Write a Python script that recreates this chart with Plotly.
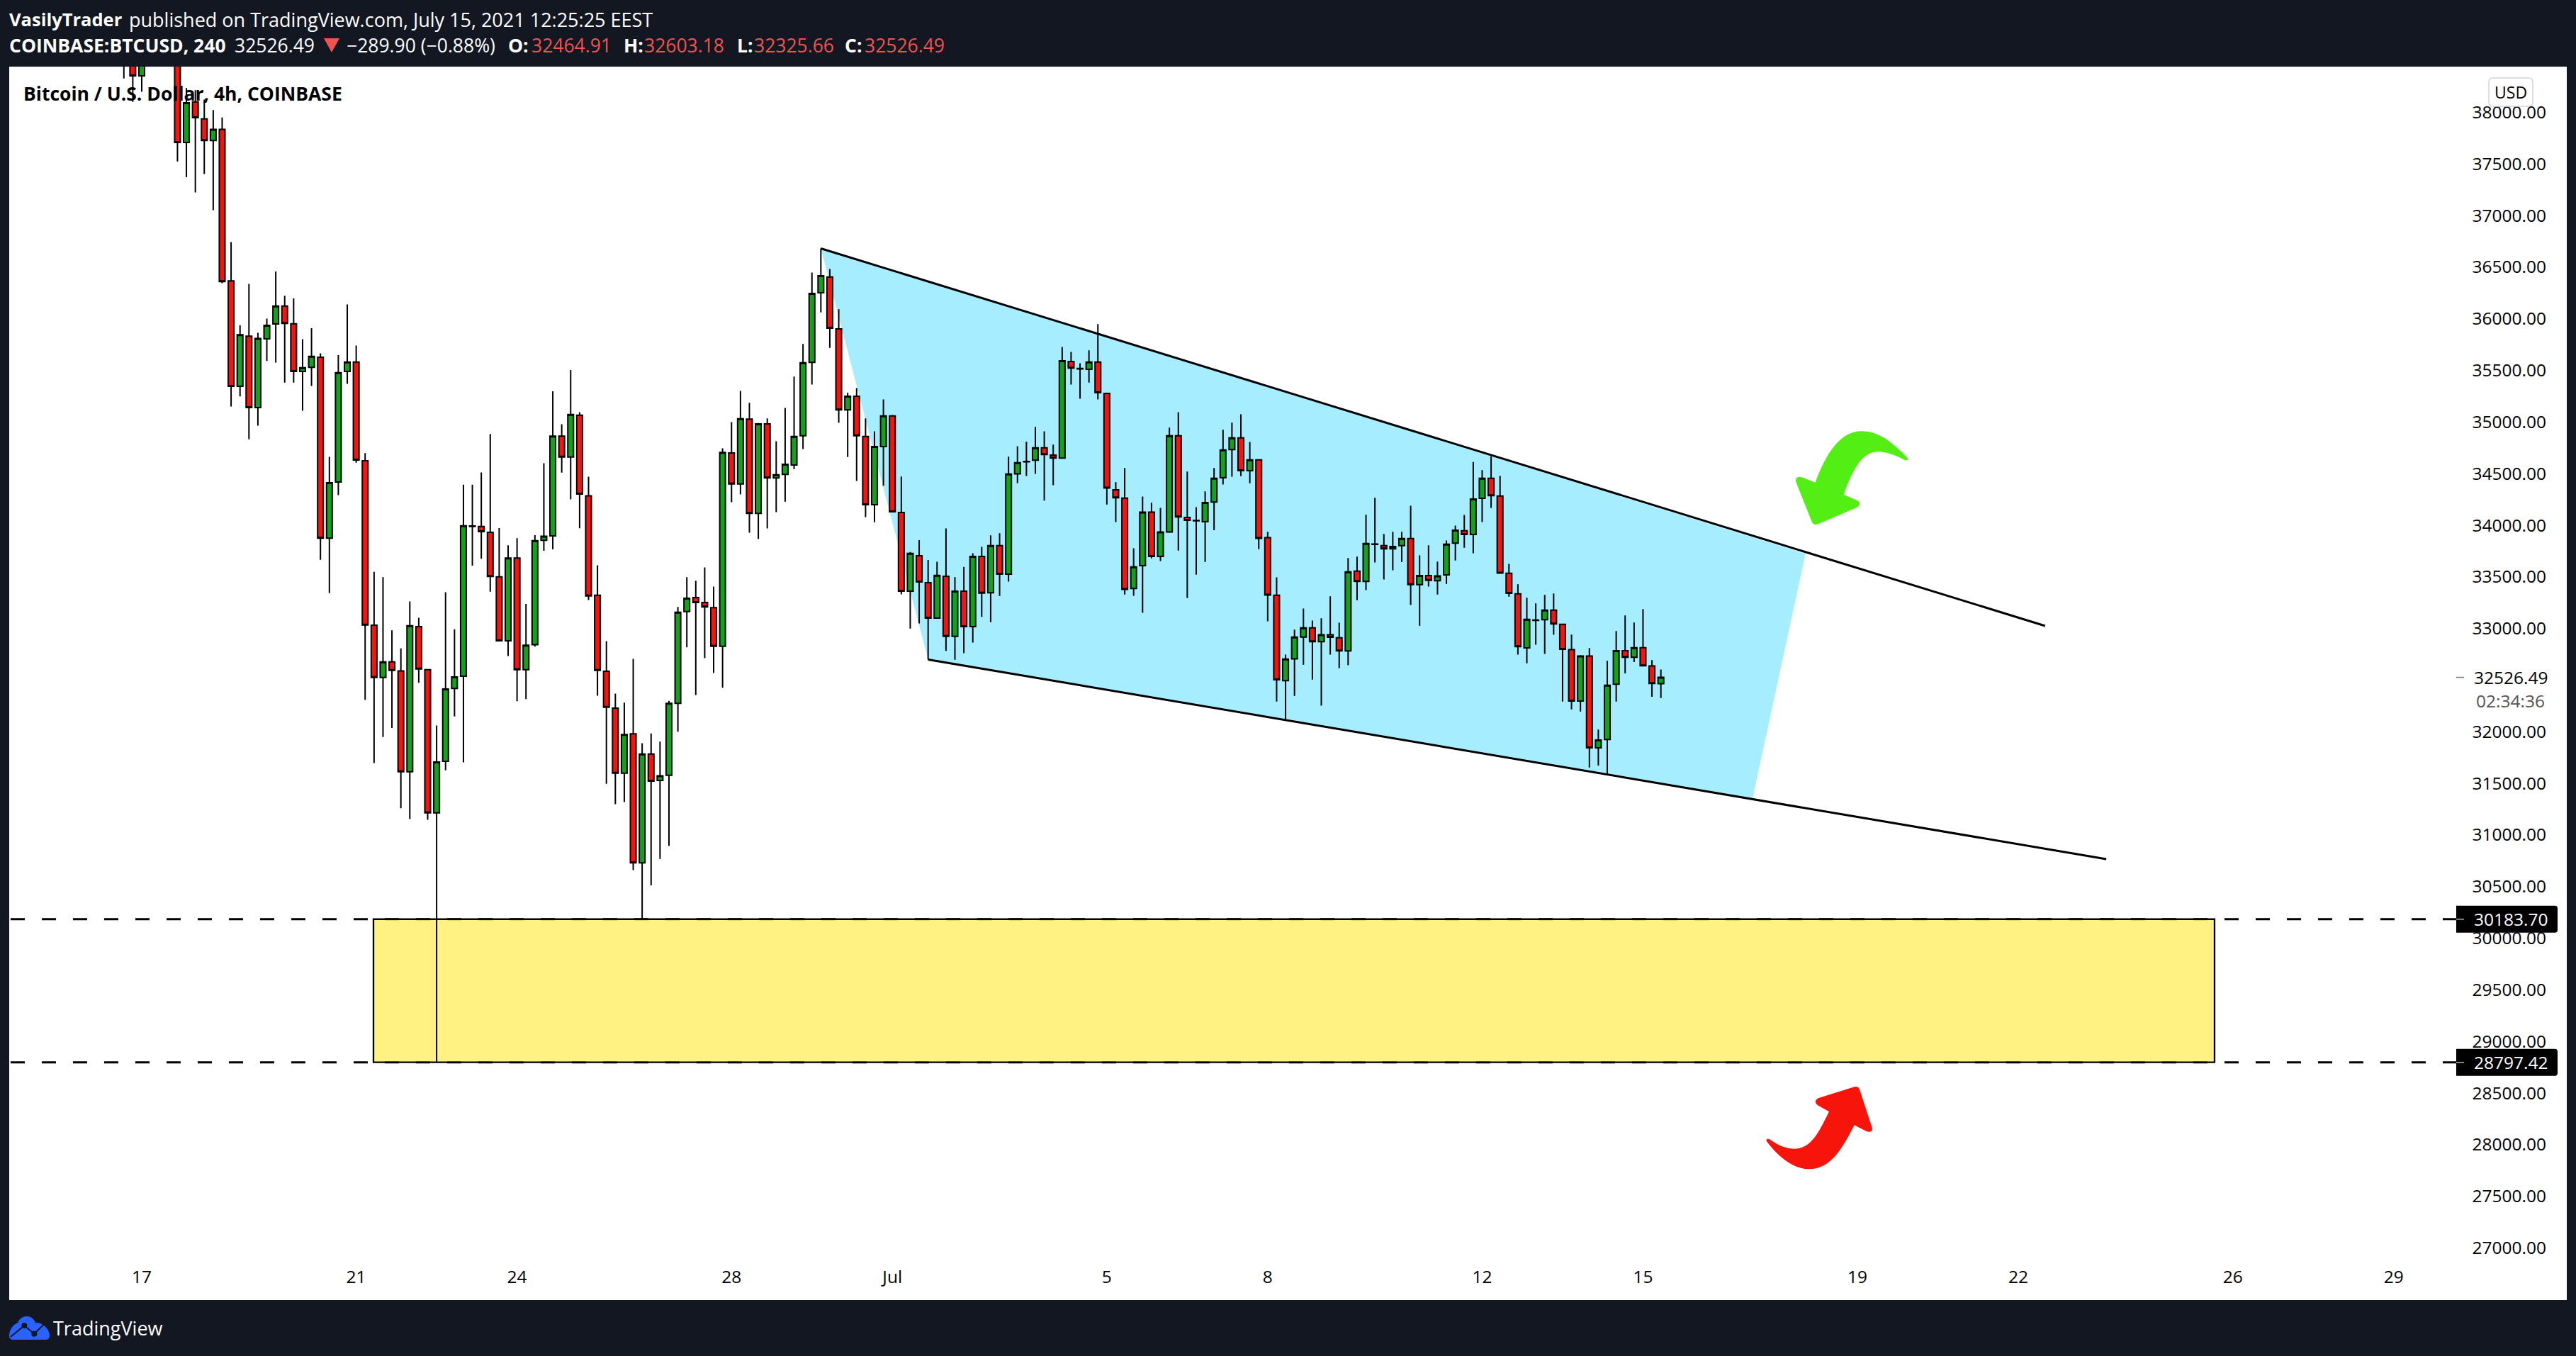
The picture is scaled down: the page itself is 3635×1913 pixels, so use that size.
import pandas as pd
import plotly.graph_objects as go

W, H = 3635, 1913
L, R, T, B = 13, 3622, 94, 1834
DARK = "#131722"
FONT = "Open Sans"

opens = [38600,38600,38352,38640,38900,39050,39200,37708,38100,37935,
37727,37834,36366,35345,35832,35140,35805,35949,36123,35952,
35489,35529,35627,33875,34418,35489,35581,34624,33031,32526,
32677,32589,31612,33017,32600,31213,31714,32418,32537,33992,
33987,33931,33500,32880,33682,32600,32842,33854,33896,34863,
34660,35066,34285,33322,32586,32229,31598,31980,30729,31784,
31528,31577,32274,33164,33300,33251,33202,32828,34700,34400,
35028,34115,34982,34458,34492,34584,34866,35577,36251,36405,
35902,35117,35249,34860,34198,34762,35059,34124,33361,33704,
33444,33100,33505,32923,33361,33018,33698,33346,33802,33526,
34498,34614,34630,34750,34679,34651,35586,35518,35510,35580,
35277,34343,34262,33387,33608,34126,33697,33934,34867,34076,
34046,34034,34225,34459,34733,34846,34528,34633,33879,33321,
32494,32706,32917,33006,32872,32938,32909,32783,33555,33456,
33818,33802,33771,33802,33871,33424,33513,33463,33519,33826,
33947,33910,34260,34454,34283,33534,33336,32812,33082,33084,
33178,33040,32794,32297,32732,31844,31924,32460,32785,32721,
32814,32636,32464.91]
closes = [38700,38352,38640,38900,39050,39200,37708,38091,37947,37727,
37834,36359,35345,35845,35140,35808,35936,36123,35955,35489,
35526,35636,33875,34411,35477,35581,34631,33034,32526,32677,
32593,31612,33027,32607,31213,31707,32414,32530,33994,33988,
33938,33504,32880,33682,32600,32838,33850,33893,34863,34660,
35073,34302,33315,32593,32236,31598,31973,30729,31784,31521,
31573,32274,33157,33293,33251,33209,32828,34705,34400,35031,
34115,34982,34458,34489,34590,34860,35574,36245,36417,35908,
35117,35249,34866,34198,34762,35059,34130,33361,33726,33450,
33100,33514,32923,33361,33018,33698,33343,33802,33526,34495,
34605,34618,34750,34685,34651,35592,35522,35514,35580,35283,
34360,34265,33379,33597,34126,33697,33934,34867,34081,34047,
34042,34220,34454,34730,34846,34528,34633,33873,33324,32502,
32704,32917,33006,32872,32938,32914,32783,33548,33456,33823,
33814,33771,33794,33871,33424,33513,33466,33508,33816,33952,
33910,34254,34454,34286,33537,33340,32823,33089,33078,33178,
33043,32798,32297,32732,31844,31919,32450,32785,32721,32814,
32638,32466,32526.49]
highs = [38900,38750,38800,39050,39200,39350,39300,38235,38214,38122,
38021,37950,36743,35936,36338,35863,36001,36458,36222,36197,
35802,35909,35664,34663,35648,36139,35740,34698,33549,33497,
32982,32807,33262,33104,32600,32060,33350,32992,34393,34393,
34512,34884,33973,33805,33875,33237,33903,34600,35297,34978,
35503,35094,34470,33612,32877,32369,32281,32705,31889,31983,
31903,32299,33209,33497,33462,33591,33406,34744,34998,35301,
35185,34990,35035,34814,35136,35439,35755,36448,36681,36481,
36092,35283,35329,35035,34909,35219,35068,34471,33741,33855,
33664,33646,33968,33496,33597,33729,33790,33901,33922,34664,
34765,34808,34952,34909,34780,35727,35678,35568,35694,35948,
35283,34417,34554,33776,34278,34218,34168,34945,35095,34520,
34175,34328,34554,34924,34993,35074,34806,34633,33936,33495,
32746,32988,33193,33077,33098,33311,33056,33682,33695,34102,
34265,33915,33936,33936,34189,33708,33805,33647,33852,33997,
34099,34612,34533,34667,34478,33626,33428,33297,33242,33325,
33338,33040,32940,32741,32810,32020,32686,32975,33126,33057,
33187,32693,32603.18]
lows = [38327,38100,38199,38560,38700,38900,37524,37371,37224,37402,
37052,36344,35149,35247,34833,34965,35590,35575,35382,35382,
35109,35348,33665,33342,34292,35369,34606,32309,31696,31948,
32036,31258,31153,32474,31146,28800,31626,32148,31703,33609,
33675,33356,32880,32733,32295,32316,32824,33752,33766,34509,
34250,33970,33276,32348,31496,31297,31318,30659,30184,30512,
30768,30894,32000,32817,32355,32712,32568,32425,34222,34299,
33928,33867,33968,34127,34228,34544,34737,35363,36061,35718,
34992,34661,34428,34078,34029,34382,34130,33330,32999,33048,
32699,33100,32782,32696,32760,32864,33113,33061,33315,33453,
34409,34477,34498,34238,34388,34645,35363,35225,35381,35219,
34201,34031,33329,33316,33151,33679,33653,33926,33755,33295,
33521,33645,33952,34394,34470,34475,34407,33768,33069,32291,
32113,32347,32649,32504,32252,32746,32615,32644,33274,33371,
33639,33474,33563,33645,33227,33027,33406,33329,33432,33658,
33781,33729,34031,34168,33537,33308,32746,32663,32842,32753,
32938,32292,32217,32196,31654,31672,31585,32292,32565,32675,
32638,32338,32325.66]
times = pd.date_range("2021-06-16 16:00", periods=len(opens), freq="4h")

price_ticks = [27000,27500,28000,28500,29000,29500,30000,30500,31000,31500,32000,
               33000,33500,34000,34500,35000,35500,36000,36500,37000,37500,38000]
date_ticks = ["2021-06-17","2021-06-21","2021-06-24","2021-06-28","2021-07-01","2021-07-05",
              "2021-07-08","2021-07-12","2021-07-15","2021-07-19","2021-07-22","2021-07-26","2021-07-29"]
date_labels = ["17","21","24","28","Jul","5","8","12","15","19","22","26","29"]

zone_low, zone_high = 28797.42, 30183.70
zone_start, zone_end = "2021-06-21 07:44", "2021-07-25 15:50"
upper_t = ["2021-06-29 16:00", "2021-07-22 12:00"]
upper_p = [36681, 33025]
lower_t = ["2021-07-01 16:00", "2021-07-23 15:22"]
lower_p = [32699, 30766]
wedge_t = ["2021-06-29 16:00", "2021-07-18 00:45", "2021-07-17 01:00", "2021-07-01 16:00"]
wedge_p = [36681, 33725, 31349, 32699]
last_price = 32526.49


def px(x):
    return (x - L) / (R - L)


def py(y):
    return (B - y) / (B - T)


def path(cmds):
    """cmds: list of (letter, x, y, x, y, ...) in page pixels -> paper path"""
    out = []
    for c in cmds:
        s = c[0]
        vals = c[1:]
        for k in range(0, len(vals), 2):
            s += f" {px(vals[k]):.6f},{py(vals[k + 1]):.6f}"
        out.append(s)
    return " ".join(out)


def shape_path(cmds, fill, layer="above", line=None):
    return dict(type="path", xref="paper", yref="paper", layer=layer, path=path(cmds), fillcolor=fill,
                line=line or dict(width=0))


def z10(x, y):  # green arrow crop
    return (2400 + x / 3, 560 + y / 3)


def z11(x, y):  # red arrow crop
    return (2400 + x / 3, 1480 + y / 3)


def cmd(letter, f, *pts):
    vals = []
    for k in range(0, len(pts), 2):
        vals.extend(f(pts[k], pts[k + 1]))
    return (letter, *vals)


green_arrow = [
    cmd("M", z10, 875, 258),
    cmd("C", z10, 800, 180, 745, 145, 680, 145),
    cmd("C", z10, 590, 145, 530, 240, 485, 362),
    cmd("L", z10, 425, 339),
    cmd("Q", z10, 398, 335, 403, 360),
    cmd("L", z10, 470, 528),
    cmd("Q", z10, 477, 545, 497, 538),
    cmd("L", z10, 660, 468),
    cmd("Q", z10, 685, 450, 660, 437),
    cmd("L", z10, 605, 413),
    cmd("C", z10, 650, 290, 690, 232, 750, 232),
    cmd("C", z10, 790, 232, 830, 250, 865, 268),
    cmd("Q", z10, 885, 268, 875, 258),
    ("Z",),
]
red_arrow = [
    cmd("M", z11, 280, 392),
    cmd("C", z11, 340, 470, 400, 508, 460, 508),
    cmd("C", z11, 550, 508, 600, 420, 650, 322),
    cmd("L", z11, 703, 349),
    cmd("Q", z11, 730, 355, 725, 332),
    cmd("L", z11, 672, 170),
    cmd("Q", z11, 665, 155, 650, 160),
    cmd("L", z11, 497, 208),
    cmd("Q", z11, 475, 222, 495, 238),
    cmd("L", z11, 543, 265),
    cmd("C", z11, 500, 350, 470, 422, 395, 422),
    cmd("C", z11, 355, 422, 320, 402, 290, 381),
    cmd("Q", z11, 272, 378, 280, 392),
    ("Z",),
]


def z9(x, y):  # logo crop
    return (x / 3, 1740 + y / 3)


cloud = [
    cmd("M", z9, 39, 432),
    cmd("C", z9, 39, 410, 55, 385, 76, 378),
    cmd("C", z9, 88, 345, 135, 340, 150, 378),
    cmd("C", z9, 178, 375, 210, 405, 210, 432),
    cmd("Q", z9, 210, 450, 192, 450),
    cmd("L", z9, 55, 450),
    cmd("Q", z9, 39, 450, 39, 432),
    ("Z",),
]

fig = go.Figure()
fig.add_trace(go.Candlestick(
    x=times, open=opens, high=highs, low=lows, close=closes,
    increasing=dict(fillcolor="#11a31a", line=dict(color="#000000", width=2)),
    decreasing=dict(fillcolor="#f8140c", line=dict(color="#000000", width=2)),
    whiskerwidth=0, showlegend=False))
for tx, pv in ((upper_t, upper_p), (lower_t, lower_p)):
    fig.add_trace(go.Scatter(x=tx, y=pv, mode="lines", line=dict(color="#000000", width=3),
                             hoverinfo="skip", showlegend=False))

shapes = []
wedge_path = "M" + " L".join(f"{t.replace(' ', '_')},{p}" for t, p in zip(wedge_t, wedge_p)) + " Z"
shapes.append(dict(type="path", xref="x", yref="y", layer="below", path=wedge_path,
                   fillcolor="#a6edff", line=dict(width=0)))
for level in (zone_high, zone_low):
    shapes.append(dict(type="line", xref="paper", yref="y", layer="below", x0=px(15), x1=px(3466), y0=level, y1=level,
                       line=dict(color="#000000", width=3, dash="20px,24px")))
shapes.append(dict(type="rect", xref="x", yref="y", layer="below", x0=zone_start, x1=zone_end, y0=zone_low, y1=zone_high,
                   fillcolor="rgba(255,232,30,0.55)", line=dict(color="#000000", width=2.3)))
shapes.append(shape_path(green_arrow, "#53ee14"))
shapes.append(shape_path(red_arrow, "#f7150b"))
# USD badge
shapes.append(shape_path([("M", 3518, 110), ("L", 3568, 110), ("Q", 3574, 110, 3574, 116), ("L", 3574, 144),
                          ("Q", 3574, 150, 3568, 150), ("L", 3518, 150), ("Q", 3512, 150, 3512, 144),
                          ("L", 3512, 116), ("Q", 3512, 110, 3518, 110), ("Z",)],
                         "#ffffff", line=dict(color="#d1d4dc", width=1.5)))
# level badges
for yc in (1296.8, 1498.7):
    shapes.append(shape_path([("M", 3466, yc - 19), ("L", 3605, yc - 19), ("Q", 3609, yc - 19, 3609, yc - 15),
                              ("L", 3609, yc + 15), ("Q", 3609, yc + 19, 3605, yc + 19), ("L", 3466, yc + 19), ("Z",)],
                             "#000000"))
    shapes.append(dict(type="line", xref="paper", yref="paper", x0=px(3466), x1=px(3477), y0=py(yc), y1=py(yc),
                       line=dict(color="#b0b0b0", width=1.5)))
shapes.append(dict(type="line", xref="paper", yref="y", x0=px(3466), x1=px(3477), y0=last_price, y1=last_price,
                   line=dict(color="#777777", width=1.5)))
# logo
shapes.append(shape_path(cloud, "#2962ff"))
shapes.append(shape_path([cmd("M", z9, 45, 438), cmd("L", z9, 103, 390), cmd("L", z9, 145, 425), cmd("L", z9, 186, 385)],
                         "rgba(0,0,0,0)", line=dict(color=DARK, width=2)))
for cx, cy in ((103, 390), (145, 425)):
    x0, y0 = z9(cx - 12, cy - 12)
    x1, y1 = z9(cx + 12, cy + 12)
    shapes.append(dict(type="circle", xref="paper", yref="paper", x0=px(x0), x1=px(x1), y0=py(y1), y1=py(y0),
                       fillcolor=DARK, line=dict(width=0)))
# header triangle
shapes.append(shape_path([("M", 457, 54), ("L", 479, 54), ("L", 468, 74), ("Z",)], "#ef5350"))


def note(x, y, text, color="#ffffff", size=26, anchor="left", yref="paper"):
    return dict(x=px(x), y=y if yref == "y" else py(y), xref="paper", yref=yref, text=text, showarrow=False,
                xanchor=anchor, yanchor="middle", borderpad=0, font=dict(family=FONT, size=size, color=color))


RED = "#ef5350"
HS = 26.5
annotations = [
    note(12, 27, "<b>VasilyTrader</b>", size=25.5),
    note(181, 27, "published on TradingView.com, July 15, 2021 12:25:25 EEST", size=27),
    note(12, 64, "<b>COINBASE:BTCUSD, 240</b>", size=HS),
    note(330, 64, "32526.49", size=HS),
    note(488, 64, "\u2212289.90 (\u22120.88%)", size=HS),
    note(716, 64, "<b>O:</b>", size=HS), note(749, 64, "32464.91", RED, HS),
    note(879, 64, "<b>H:</b>", size=HS), note(908, 64, "32603.18", RED, HS),
    note(1039, 64, "<b>L:</b>", size=HS), note(1063, 64, "32325.66", RED, HS),
    note(1191, 64, "<b>C:</b>", size=HS), note(1219, 64, "32526.49", RED, HS),
    note(32, 132, "<b>Bitcoin / U.S. Dollar, 4h, COINBASE</b>", "#000000", 26.5),
    note(3543, 130, "USD", "#000000", 23, "center"),
    note(3597, last_price, "32526.49", "#000000", 24.5, "right", "y"),
    note(3592, 988, "02:34:36", "#555555", 24.5, "right"),
    note(3597, zone_high, "30183.70", "#ffffff", 24.5, "right", "y"),
    note(3597, zone_low, "28797.42", "#ffffff", 24.5, "right", "y"),
    note(74, 1873, "TradingView", "#ffffff", 27),
]

fig.update_layout(
    width=W, height=H, autosize=False,
    margin=dict(l=L, r=W - R, t=T, b=H - B, pad=0),
    paper_bgcolor=DARK, plot_bgcolor="#ffffff",
    boxgap=0.36, boxgroupgap=0,
    showlegend=False, shapes=shapes, annotations=annotations,
    font=dict(family=FONT, color="#000000"),
    xaxis=dict(type="date", range=["2021-06-14 12:41", "2021-08-01 05:30"], showgrid=False, zeroline=False,
               rangeslider=dict(visible=False), tickmode="array", tickvals=date_ticks, ticktext=date_labels,
               ticklabelposition="inside", ticklabelstandoff=16, ticks="", showline=False,
               tickfont=dict(family=FONT, size=24.5, color="#000000")),
    yaxis=dict(side="right", range=[26495, 38442], showgrid=False, zeroline=False, tickmode="array",
               tickvals=price_ticks, ticktext=[f"{v:.2f}" for v in price_ticks],
               ticklabelposition="inside", ticklabelstandoff=26, ticks="", showline=False,
               tickfont=dict(family=FONT, size=24.5, color="#000000")),
)

fig.write_html("out.html", config=dict(displayModeBar=False),
               post_script="document.body.style.margin='0';document.documentElement.style.overflow='hidden';")
